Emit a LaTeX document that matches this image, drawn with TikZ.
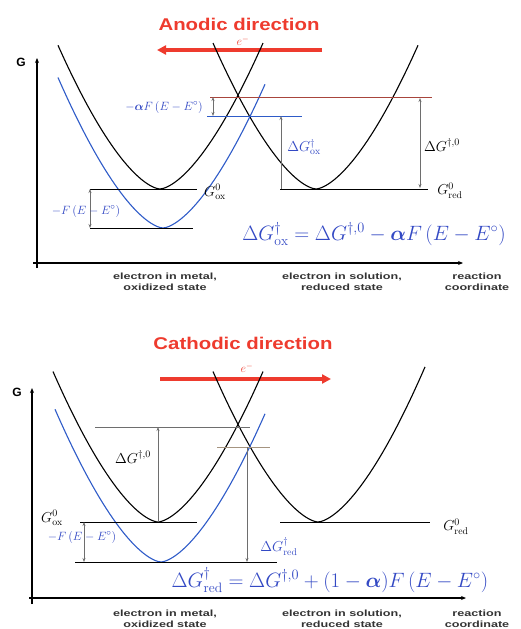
\documentclass[tikz,border=0pt]{standalone}
\usepackage{fontspec}
\usepackage{amsmath}
\usetikzlibrary{arrows.meta,positioning}
\setsansfont{Liberation Sans}
\newfontfamily\headfont[FakeStretch=1.2]{Liberation Sans}
\newfontfamily\axisfont[FakeStretch=1.4]{Liberation Sans}
\definecolor{curveblue}{HTML}{2E5BC8}
\definecolor{inkblue}{HTML}{3349C4}
\definecolor{signal}{HTML}{EE3B2E}
\definecolor{dimgrey}{HTML}{6E6E6E}
\definecolor{rust}{HTML}{A8453C}
\definecolor{tan}{HTML}{A59480}
\newcommand{\well}[5]{\draw[#1] plot[domain=#4:#5,samples=70] ({#2+(\x)},{#3-0.092*(abs(\x)+0.01)^1.59});}

\begin{document}
\begin{tikzpicture}[
  x=1pt,y=-1pt,
  well/.style={draw=#1,line width=1.1pt},
  well/.default=black,
  level/.style={draw=#1,line width=.9pt},
  level/.default=black,
  dim/.style={draw=dimgrey,line width=.6pt},
  tip/.style={-{Stealth[length=4pt,width=3pt]}},
  tips/.style={{Stealth[length=4pt,width=3pt]}-{Stealth[length=4pt,width=3pt]}},
  axis/.style={-{Stealth[length=5pt,width=4pt]},line width=1.2pt},
  flow/.style={-{Triangle[length=9pt,width=9pt]},draw=signal,line width=3.5pt},
  head/.style={font=\headfont\bfseries\fontsize{17}{17}\selectfont,text=signal,inner sep=1pt},
  axislabel/.style={font=\axisfont\bfseries\fontsize{9}{10.5}\selectfont,text=black!80,align=center},
  mathlabel/.style={font=\fontsize{14}{14}\selectfont,inner sep=1pt},
  shiftlabel/.style={font=\fontsize{12.5}{12.5}\selectfont,text=inkblue,inner sep=1pt},
  electron/.style={font=\fontsize{12}{12}\selectfont,text=signal,inner sep=0pt},
  eqn/.style={font=\fontsize{#1}{#1}\selectfont,text=inkblue},
  eqn/.default=19.5
]
\useasboundingbox (0,0) rectangle (520,629);

\node[head] (anodic) at (239,24) {Anodic direction};
\node[electron] (e1) at (243,41) {$e^-$};
\coordinate (a1s) at (322,50); \coordinate (a1e) at (157,50);
\draw[flow] (a1s) -- (a1e);
\node[font=\sffamily\bfseries\large] (g1) at (21,62) {G};
\coordinate (y1b) at (37,268); \coordinate (y1t) at (37,58);
\coordinate (x1l) at (33,263); \coordinate (x1r) at (463,263);
\draw[axis] (y1b) -- (y1t);
\draw[axis] (x1l) -- (x1r);
\well{well}{160}{189}{-102}{103}
\well{well}{316}{189}{-103}{102}
\well{well=curveblue}{163}{228}{-105}{102}
\coordinate (t1l) at (210,97); \coordinate (t1r) at (432,97);
\coordinate (b1l) at (207,116); \coordinate (b1r) at (302,116);
\coordinate (ox1l) at (90,189); \coordinate (ox1r) at (197,189);
\coordinate (rd1l) at (280,189); \coordinate (rd1r) at (428,189);
\coordinate (lo1l) at (90,228); \coordinate (lo1r) at (193,228);
\draw[level=rust] (t1l) -- (t1r);
\draw[level=curveblue] (b1l) -- (b1r);
\draw[level] (ox1l) -- (ox1r);
\draw[level] (rd1l) -- (rd1r);
\draw[level] (lo1l) -- (lo1r);
\draw[dim,tips] (213,97) coordinate (af1t) -- (213,116) coordinate (af1b);
\draw[dim,tip] (281,189) coordinate (dg1b) -- (281,116) coordinate (dg1t);
\draw[dim,tips] (420,98) coordinate (d01t) -- (420,188) coordinate (d01b);
\draw[dim,tips] (ox1l) -- (lo1l);
\node[shiftlabel] (af1) at (164,107) {$-\boldsymbol{\alpha}F\,(E-E^{\circ})$};
\node[mathlabel,text=inkblue] (dgox) at (304,147) {$\Delta G^{\dagger}_{\mathrm{ox}}$};
\node[mathlabel,fill=white] (dg01) at (442,145) {$\Delta G^{\dagger,0}$};
\node[mathlabel] (gox1) at (215,192) {$G^{0}_{\mathrm{ox}}$};
\node[mathlabel] (gred1) at (450,191) {$G^{0}_{\mathrm{red}}$};
\node[shiftlabel] (f1) at (86,211) {$-F\,(E-E^{\circ})$};
\node[eqn=19.5] (eq1) at (374,234) {$\Delta G^{\dagger}_{\mathrm{ox}}=\Delta G^{\dagger,0}-\boldsymbol{\alpha}F\left(E-E^{\circ}\right)$};
\node[axislabel] (m1) at (165,282) {electron in metal,\\oxidized state};
\node[axislabel] (s1) at (342,282) {electron in solution,\\reduced state};
\node[axislabel] (r1) at (477,282) {reaction\\coordinate};

\node[head] (cathodic) at (243,343) {Cathodic direction};
\node[electron] (e2) at (247,368) {$e^-$};
\coordinate (a2s) at (160,379); \coordinate (a2e) at (331,379);
\draw[flow] (a2s) -- (a2e);
\node[font=\sffamily\bfseries\large] (g2) at (17,392) {G};
\coordinate (y2b) at (32,604); \coordinate (y2t) at (32,388);
\coordinate (x2l) at (29,598); \coordinate (x2r) at (466,598);
\draw[axis] (y2b) -- (y2t);
\draw[axis] (x2l) -- (x2r);
\well{well}{158}{522}{-105}{105}
\well{well}{318}{522}{-105}{107}
\well{well=curveblue}{161}{562}{-106}{104}
\coordinate (t2l) at (95,427); \coordinate (t2r) at (250,427);
\coordinate (b2l) at (217,447); \coordinate (b2r) at (270,447);
\coordinate (ox2l) at (80,522); \coordinate (ox2r) at (197,522);
\coordinate (rd2l) at (280,522); \coordinate (rd2r) at (430,522);
\coordinate (lo2l) at (75,562); \coordinate (lo2r) at (277,562);
\draw[level=dimgrey] (t2l) -- (t2r);
\draw[level=tan] (b2l) -- (b2r);
\draw[level] (ox2l) -- (ox2r);
\draw[level] (rd2l) -- (rd2r);
\draw[level] (lo2l) -- (lo2r);
\draw[dim,tip] (158,522) coordinate (d02b) -- (158,427) coordinate (d02t);
\draw[dim,tip] (247,447) coordinate (dr2t) -- (247,562) coordinate (dr2b);
\draw[dim,tips] (84,522) coordinate (f2t) -- (84,562) coordinate (f2b);
\node[mathlabel] (dg02) at (133,457) {$\Delta G^{\dagger,0}$};
\node[mathlabel,text=inkblue] (dgred) at (279,547) {$\Delta G^{\dagger}_{\mathrm{red}}$};
\node[mathlabel] (gox2) at (52,518) {$G^{0}_{\mathrm{ox}}$};
\node[mathlabel] (gred2) at (456,527) {$G^{0}_{\mathrm{red}}$};
\node[shiftlabel] (f2) at (82,537) {$-F\,(E-E^{\circ})$};
\node[eqn] (eq2) at (330,580) {$\Delta G^{\dagger}_{\mathrm{red}}=\Delta G^{\dagger,0}+(1-\boldsymbol{\alpha})F\left(E-E^{\circ}\right)$};
\node[axislabel] (m2) at (165,619) {electron in metal,\\oxidized state};
\node[axislabel] (s2) at (342,619) {electron in solution,\\reduced state};
\node[axislabel] (r2) at (477,619) {reaction\\coordinate};
\end{tikzpicture}
\end{document}
